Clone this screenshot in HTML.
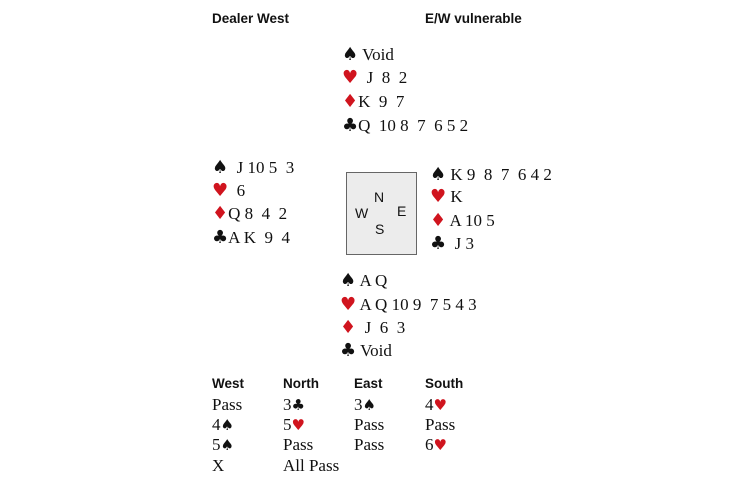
<!DOCTYPE html>
<html><head><meta charset="utf-8"><style>
body{margin:0;width:730px;height:486px;background:#fff;position:relative;overflow:hidden;font-family:"Liberation Serif",serif;font-size:17px;color:#111}
.l{position:absolute;line-height:20px;white-space:pre}
.h{position:absolute;font-family:"Liberation Sans",sans-serif;font-weight:bold;font-size:13.5px;line-height:16px}
.r{color:#d0141e}
.s{font-family:"DejaVu Sans",sans-serif;font-size:18px;line-height:20px}
.b{font-family:"DejaVu Sans",sans-serif;font-size:15px;line-height:20px}
.box{position:absolute;left:346px;top:172px;width:71px;height:83px;background:#ececec;border:1.5px solid #666;box-sizing:border-box}
.c{position:absolute;font-family:"Liberation Sans",sans-serif;font-size:14px}
</style></head><body>
<div class="h" style="left:212px;top:11px">Dealer West</div>
<div class="h" style="left:425px;top:11px">E/W vulnerable</div>

<div class="l" style="left:342px;top:45px"><span class="s">♠</span> Void</div>
<div class="l" style="left:342px;top:68px"><span class="s r">♥</span>  J  8  2</div>
<div class="l" style="left:342px;top:92px"><span class="s r">♦</span>K  9  7</div>
<div class="l" style="left:342px;top:116px"><span class="s">♣</span>Q  10 8  7  6 5 2</div>

<div class="l" style="left:212px;top:158px"><span class="s">♠</span>  J 10 5  3</div>
<div class="l" style="left:212px;top:181px"><span class="s r">♥</span>  6</div>
<div class="l" style="left:212px;top:204px"><span class="s r">♦</span>Q 8  4  2</div>
<div class="l" style="left:212px;top:228px"><span class="s">♣</span>A K  9  4</div>

<div class="box"></div>
<div class="c" style="left:374px;top:189px">N</div>
<div class="c" style="left:355px;top:205px">W</div>
<div class="c" style="left:397px;top:203px">E</div>
<div class="c" style="left:375px;top:221px">S</div>

<div class="l" style="left:430px;top:165px"><span class="s">♠</span> K 9  8  7  6 4 2</div>
<div class="l" style="left:430px;top:187px"><span class="s r">♥</span> K</div>
<div class="l" style="left:430px;top:211px"><span class="s r">♦</span> A 10 5</div>
<div class="l" style="left:430px;top:234px"><span class="s">♣</span>  J 3</div>

<div class="l" style="left:340px;top:271px"><span class="s">♠</span> A Q</div>
<div class="l" style="left:340px;top:295px"><span class="s r">♥</span> A Q 10 9  7 5 4 3</div>
<div class="l" style="left:340px;top:318px"><span class="s r">♦</span>  J  6  3</div>
<div class="l" style="left:340px;top:341px"><span class="s">♣</span> Void</div>

<div class="h" style="left:212px;top:376px">West</div>
<div class="h" style="left:283px;top:376px">North</div>
<div class="h" style="left:354px;top:376px">East</div>
<div class="h" style="left:425px;top:376px">South</div>

<div class="l" style="left:212px;top:395px">Pass</div>
<div class="l" style="left:283px;top:395px">3<span class="b">♣</span></div>
<div class="l" style="left:354px;top:395px">3<span class="b">♠</span></div>
<div class="l" style="left:425px;top:395px">4<span class="b r">♥</span></div>

<div class="l" style="left:212px;top:415px">4<span class="b">♠</span></div>
<div class="l" style="left:283px;top:415px">5<span class="b r">♥</span></div>
<div class="l" style="left:354px;top:415px">Pass</div>
<div class="l" style="left:425px;top:415px">Pass</div>

<div class="l" style="left:212px;top:435px">5<span class="b">♠</span></div>
<div class="l" style="left:283px;top:435px">Pass</div>
<div class="l" style="left:354px;top:435px">Pass</div>
<div class="l" style="left:425px;top:435px">6<span class="b r">♥</span></div>

<div class="l" style="left:212px;top:456px">X</div>
<div class="l" style="left:283px;top:456px">All Pass</div>
</body></html>
